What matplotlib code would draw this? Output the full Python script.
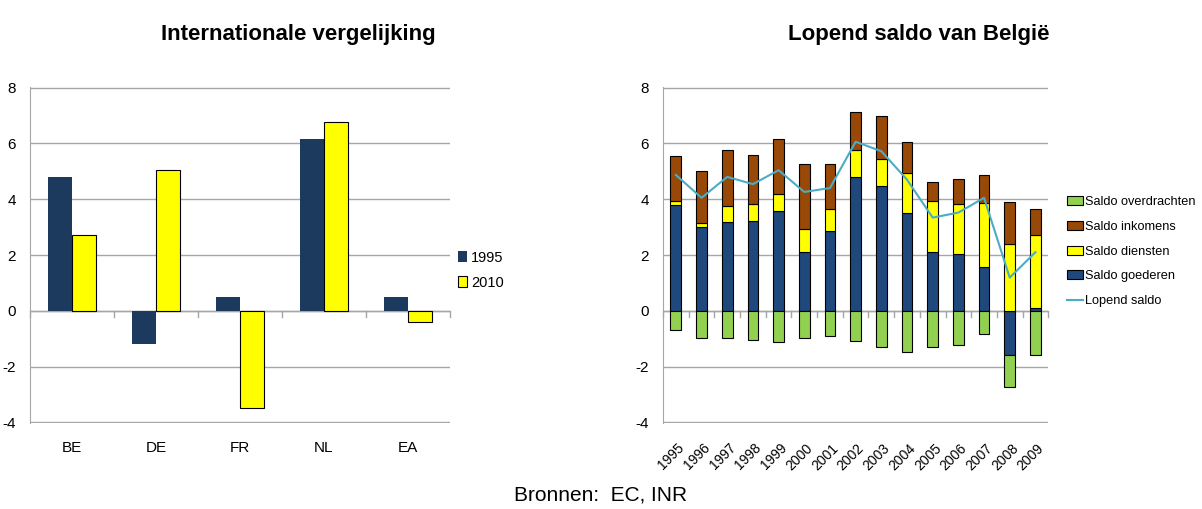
import numpy as np
import matplotlib
matplotlib.use("Agg")
import matplotlib.pyplot as plt
from matplotlib.transforms import ScaledTranslation

plt.rcParams['font.family'] = ['Liberation Sans', 'DejaVu Sans']
plt.rcParams['axes.unicode_minus'] = False

# linker grafiek
landen = ["BE", "DE", "FR", "NL", "EA"]
saldo_1995 = [4.8, -1.2, 0.5, 6.15, 0.5]
saldo_2010 = [2.7, 5.05, -3.5, 6.75, -0.4]

# rechter grafiek
jaren = [str(j) for j in range(1995, 2010)]
goederen = [3.80, 2.99, 3.19, 3.21, 3.57, 2.10, 2.87, 4.81, 4.48, 3.52, 2.11, 2.02, 1.58, -1.57, 0.10]
diensten = [0.15, 0.16, 0.57, 0.61, 0.62, 0.83, 0.78, 0.94, 0.95, 1.41, 1.84, 1.80, 2.28, 2.41, 2.63]
inkomens = [1.59, 1.87, 2.00, 1.77, 1.97, 2.32, 1.62, 1.38, 1.55, 1.11, 0.66, 0.91, 1.00, 1.49, 0.93]
overdrachten = [-0.67, -0.99, -0.96, -1.04, -1.11, -0.97, -0.89, -1.07, -1.29, -1.46, -1.29, -1.21, -0.84, -1.15, -1.57]
lopend = [4.87, 4.05, 4.80, 4.54, 5.04, 4.26, 4.40, 6.06, 5.72, 4.70, 3.34, 3.52, 4.05, 1.19, 2.10]

navy = "#1c3a5e"
blauw = "#1f497d"
geel = "#ffff00"
bruin = "#984807"
groen = "#92d050"
lijn = "#4bacc6"
grijs = "#a6a6a6"

fig = plt.figure(figsize=(12.02, 5.09), dpi=100)
ax1 = fig.add_axes([0.025, 0.169, 0.349, 0.660])
ax2 = fig.add_axes([0.5516, 0.169, 0.3205, 0.660])


def opmaak(ax, n):
    ax.set_ylim(-4.02, 8.02)
    ax.set_xlim(-0.5, n - 0.5)
    ax.set_yticks(range(-4, 9, 2))
    ax.yaxis.grid(True, color=grijs, lw=1)
    ax.set_axisbelow(True)
    for s in ["top", "right", "bottom"]:
        ax.spines[s].set_visible(False)
    ax.spines["left"].set_color(grijs)
    ax.tick_params(axis="y", length=0, labelsize=11, pad=10)
    ax.tick_params(axis="x", length=0, labelsize=11)
    ax.axhline(0, color=grijs, lw=1, zorder=1)
    # kleine streepjes tussen categorieën op de nullijn
    for b in np.arange(-0.5, n, 1):
        ax.plot([b, b], [0, -0.22], color=grijs, lw=1, zorder=1, clip_on=False)


# linker grafiek
x = np.arange(len(landen))
w = 0.285
opmaak(ax1, len(landen))
ax1.bar(x - w / 2, saldo_1995, w, color=navy, label="1995", zorder=2)
ax1.bar(x + w / 2, saldo_2010, w, color=geel, edgecolor="black", lw=0.8, label="2010", zorder=2)
ax1.set_xticks(x)
ax1.set_xticklabels(landen)
ax1.tick_params(axis="x", pad=13)
ax1.set_title("Internationale vergelijking", fontsize=16, fontweight="bold", pad=34, x=0.64)
ax1.legend(loc="center left", bbox_to_anchor=(0.99, 0.455), frameon=False, fontsize=10.5,
           handlelength=0.6, handleheight=0.7, handletextpad=0.25, labelspacing=0.75)

# rechter grafiek
x2 = np.arange(len(jaren))
w2 = 0.42
opmaak(ax2, len(jaren))
g = np.array(goederen)
d = np.array(diensten)
i = np.array(inkomens)
o = np.array(overdrachten)
pos_basis = np.where(g > 0, g, 0)
neg_basis = np.where(g < 0, g, 0)
ek = dict(edgecolor="black", lw=0.8, zorder=2)
b_goed = ax2.bar(x2, g, w2, color=blauw, **ek)
b_dien = ax2.bar(x2, d, w2, bottom=pos_basis, color=geel, **ek)
b_ink = ax2.bar(x2, i, w2, bottom=pos_basis + d, color=bruin, **ek)
b_over = ax2.bar(x2, o, w2, bottom=neg_basis, color=groen, **ek)
l_lop, = ax2.plot(x2, lopend, color=lijn, lw=1.5, zorder=3)
ax2.set_xticks(x2)
ax2.set_xticklabels(jaren, rotation=45, ha="right", rotation_mode="anchor", fontsize=10)
ax2.tick_params(axis="x", pad=13)
verschuif = ScaledTranslation(1 / 72, 0, fig.dpi_scale_trans)
for lbl in ax2.get_xticklabels():
    lbl.set_transform(lbl.get_transform() + verschuif)
ax2.set_title("Lopend saldo van België", fontsize=16, fontweight="bold", pad=34, x=0.665)
ax2.legend([b_over, b_ink, b_dien, b_goed, l_lop],
           ["Saldo overdrachten", "Saldo inkomens", "Saldo diensten", "Saldo goederen", "Lopend saldo"],
           loc="center left", bbox_to_anchor=(1.018, 0.51), frameon=False, fontsize=9.2,
           handlelength=1.3, handleheight=0.7, handletextpad=0.1, labelspacing=1.0)

fig.text(0.5, 0.008, "Bronnen:  EC, INR", ha="center", va="bottom", fontsize=15)

fig.savefig("out.png", dpi=100)
